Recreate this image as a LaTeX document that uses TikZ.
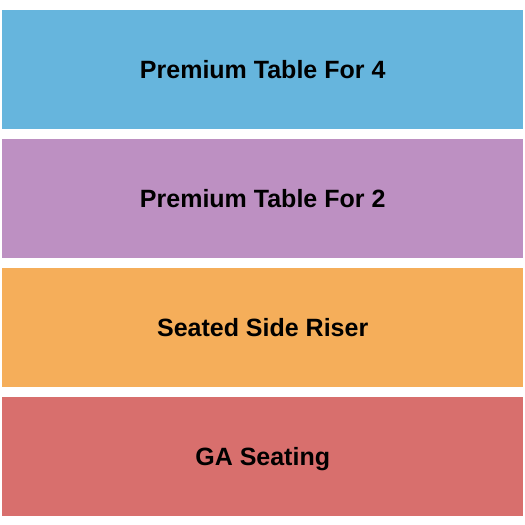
\documentclass[tikz,border=0pt]{standalone}
\usepackage{fontspec}
\setmainfont{Liberation Sans}
\definecolor{tablefour}{HTML}{66B5DD}
\definecolor{tabletwo}{HTML}{BD90C2}
\definecolor{riser}{HTML}{F5AE5A}
\definecolor{gaseat}{HTML}{D86F6D}
\tikzset{
  section/.style={anchor=north west, inner sep=0pt, minimum width=521pt,
    minimum height=118.5pt, text depth=-3pt,
    font=\fontsize{25}{30}\selectfont\bfseries}
}
\begin{document}
\begin{tikzpicture}[x=1pt, y=-1pt]
    \useasboundingbox (0,0) rectangle (525,525);

    \node [section, fill=tablefour] (four) at (2,10) {Premium Table For 4};
    \node [section, fill=tabletwo] (two) at (2,139) {Premium Table For 2};
    \node [section, fill=riser] (side) at (2,268) {Seated Side Riser};
    \node [section, fill=gaseat] (ga) at (2,397) {GA Seating};
  \end{tikzpicture}
\end{document}
